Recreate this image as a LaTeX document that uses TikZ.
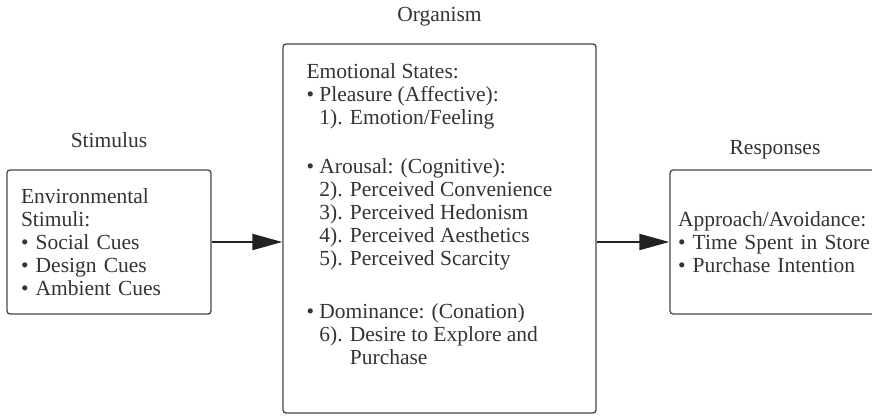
\documentclass[tikz,border=0pt]{standalone}
\usepackage{fontspec}
\setmainfont{Liberation Serif}
\usepackage{xcolor}
\usetikzlibrary{arrows.meta,positioning}
\definecolor{ink}{HTML}{333333}
\definecolor{frame}{HTML}{454545}
\definecolor{flowc}{HTML}{222222}
\tikzset{
  box/.style={draw=frame, line width=1.3pt, rounded corners=3pt, inner sep=0pt},
  txt/.style={text=ink, align=left, inner sep=0pt, font=\fontsize{21.5pt}{23pt}\selectfont},
  head/.style={text=ink, inner sep=0pt, font=\fontsize{21.5pt}{23pt}\selectfont},
  flow/.style={draw=flowc, line width=2pt, -{Triangle[length=30pt,width=16pt]}},
}

\begin{document}
\begin{tikzpicture}[x=1pt,y=-1pt]
  \useasboundingbox (0,0) rectangle (872,415);
  % the three boxes
  \node[box, txt, text width=176pt, inner xsep=14pt, minimum height=144pt] (stim) at (109,242)
    {Environmental\\Stimuli:\\• Social Cues\\• Design Cues\\• Ambient Cues};
  \node[box, minimum width=313pt, minimum height=369pt] (org) at (439.5,228.5) {};
  \node[box, txt, text width=194pt, inner xsep=8pt, minimum height=144pt] (resp) at (775,242)
    {Approach/Avoidance:\\• Time Spent in Store\\• Purchase Intention};
  \node[txt, below right=20pt and 24pt of org.north west] (orgtext) {%
    Emotional States:\\
    • Pleasure (Affective):\\
    \hphantom{• }1). Emotion/Feeling\\[26pt]
    • Arousal: (Cognitive):\\
    \hphantom{• }2). Perceived Convenience\\
    \hphantom{• }3). Perceived Hedonism\\
    \hphantom{• }4). Perceived Aesthetics\\
    \hphantom{• }5). Perceived Scarcity\\[30pt]
    • Dominance: (Conation)\\
    \hphantom{• }6). Desire to Explore and\\
    \hphantom{• 6). }Purchase};
  % headings
  \node[head, above=21pt of stim] (stimlab) {Stimulus};
  \node[head, above=17pt of org] (orglab) {Organism};
  \node[head, above=10pt of resp] (resplab) {Responses};
  % arrows
  \draw[flow] (stim.east) -- (stim.east -| org.west);
  \draw[flow] (org.east |- resp.west) -- (resp.west);
\end{tikzpicture}
\end{document}
